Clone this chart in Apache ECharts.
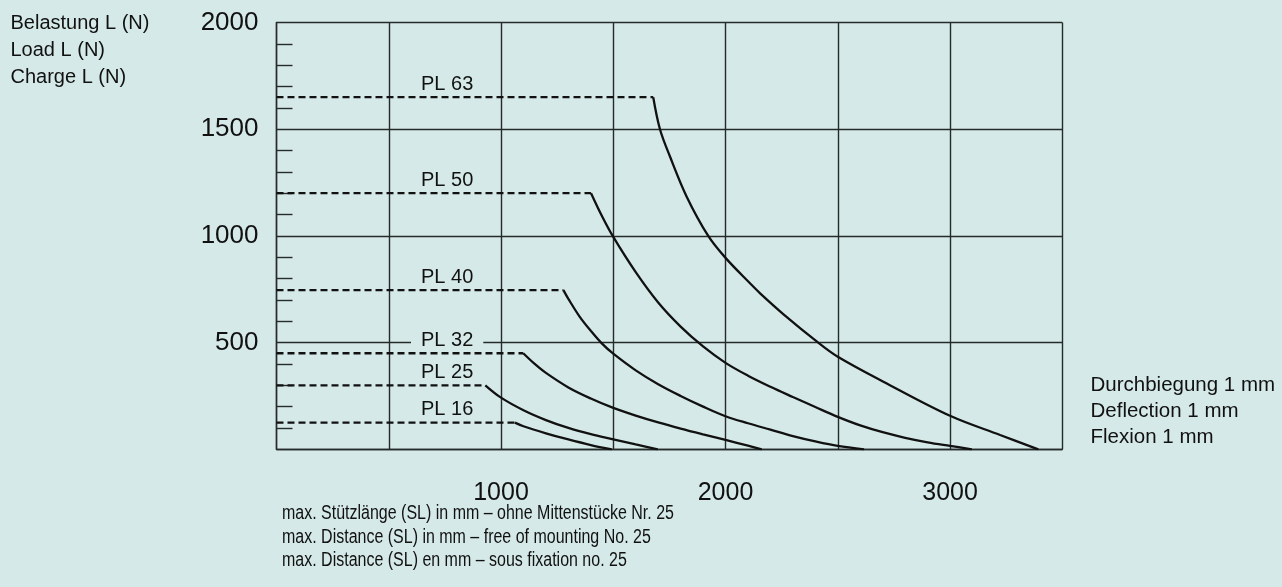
<!DOCTYPE html>
<html>
<head>
<meta charset="utf-8">
<script src="https://cdn.jsdelivr.net/npm/echarts@6/dist/echarts.min.js"></script>
<style>
  html, body { margin: 0; padding: 0; background: #d5eae8; }
  #chart { width: 1282px; height: 587px; }
</style>
</head>
<body>
<div id="chart"></div>
<script>
// ---- data (SL in mm, load L in N) ----
const xTickLabels = [1000, 2000, 3000];
const yTickLabels = [500, 1000, 1500, 2000];
const seriesNames = ['PL 63', 'PL 50', 'PL 40', 'PL 32', 'PL 25', 'PL 16'];

const pl63 = [[1678, 1650], [1708, 1500], [1753, 1371], [1827, 1184], [1923, 1000], [2000, 897], [2109, 778], [2154, 731], [2257, 634], [2413, 500], [2500, 434], [2703, 317], [3000, 157], [3223, 67], [3393, 0]];
const pl50 = [[1401, 1200], [1450, 1092], [1500, 995], [1600, 830], [1700, 688], [1800, 575], [1900, 482], [2000, 405], [2100, 345], [2200, 293], [2300, 245], [2400, 198], [2500, 152], [2600, 112], [2700, 80], [2800, 54], [2900, 33], [3000, 16], [3097, 0]];
const pl40 = [[1278, 746], [1300, 705], [1350, 622], [1400, 555], [1450, 495], [1500, 448], [1600, 370], [1700, 305], [1800, 250], [1900, 200], [2000, 155], [2100, 122], [2200, 92], [2300, 62], [2400, 37], [2500, 16], [2617, 0]];
const pl32 = [[1099, 450], [1150, 400], [1200, 358], [1300, 290], [1400, 238], [1500, 194], [1600, 158], [1700, 126], [1800, 97], [1900, 70], [2000, 44], [2100, 17], [2161, 0]];
const pl25 = [[930, 300], [1000, 242], [1100, 183], [1200, 137], [1300, 100], [1400, 71], [1500, 47], [1600, 23], [1698, 0]];
const pl16 = [[1062, 125], [1100, 108], [1200, 75], [1300, 46], [1400, 20], [1493, 0]];

const curves = [pl63, pl50, pl40, pl32, pl25, pl16];

const yTitle = 'Belastung L (N)\nLoad L (N)\nCharge L (N)';
const noteText = 'Durchbiegung 1 mm\nDeflection 1 mm\nFlexion 1 mm';
const xTitle = 'max. Stützlänge (SL) in mm – ohne Mittenstücke Nr. 25\nmax. Distance (SL) in mm – free of mounting No. 25\nmax. Distance (SL) en mm – sous fixation no. 25';

// ---- styling ----
const BG = '#d5eae8';
const INK = '#111111';
const GRIDC = '#262b2a';
const FONT = '"Liberation Sans", Arial, sans-serif';
const LABEL_SL = 760;

const series = [];
curves.forEach((c, i) => {
  const name = seriesNames[i];
  const start = c[0];
  series.push({
    name: name, type: 'line', data: c, smooth: 0.35,
    showSymbol: false, symbol: 'none',
    lineStyle: { color: INK, width: 2.3 }, z: 5, silent: true
  });
  series.push({
    name: name + ' level', type: 'line', data: [[0, start[1]], [start[0], start[1]]],
    showSymbol: false, symbol: 'none',
    lineStyle: { color: INK, width: 2.3, type: [7, 4] }, z: 5, silent: true
  });
  series.push({
    name: name + ' label', type: 'scatter', data: [[LABEL_SL, start[1]]],
    symbolSize: 0, silent: true, z: 6,
    itemStyle: { opacity: 1 },
    label: {
      show: true, position: 'top', distance: 3,
      formatter: name, fontSize: 20, lineHeight: 20, color: INK, fontFamily: FONT,
      backgroundColor: BG, padding: [0, 10]
    }
  });
});

const chart = echarts.init(document.getElementById('chart'), null, { renderer: 'canvas' });
chart.setOption({
  backgroundColor: BG,
  animation: false,
  textStyle: { fontFamily: FONT },
  grid: { left: 276.5, top: 22.5, right: 219.7, bottom: 137.7, containLabel: false },
  title: [
    { text: yTitle, left: 10.5, top: 9.5, padding: 0,
      textStyle: { fontSize: 20, lineHeight: 27, fontWeight: 'normal', color: INK, fontFamily: FONT } },
    { text: noteText, left: 1090.5, top: 372, padding: 0,
      textStyle: { fontSize: 20.5, lineHeight: 26, fontWeight: 'normal', color: INK, fontFamily: FONT } }
  ],
  graphic: [
    { type: 'text', x: 282, y: 502.3, scaleX: 0.82, scaleY: 1, silent: true,
      style: { text: xTitle, x: 0, y: 0, fill: INK, fontSize: 19.5, lineHeight: 23.5,
        fontFamily: FONT, verticalAlign: 'top', align: 'left' } }
  ],
  xAxis: {
    type: 'value', min: 0, max: 3500, interval: 500,
    axisLine: { show: true, lineStyle: { color: GRIDC, width: 1.4 } },
    axisTick: { show: false },
    axisLabel: {
      fontSize: 25, color: INK, margin: 31, fontFamily: FONT,
      formatter: v => xTickLabels.includes(v) ? String(v) : ''
    },
    splitLine: { show: true, lineStyle: { color: GRIDC, width: 1.4 } }
  },
  yAxis: {
    type: 'value', min: 0, max: 2000, interval: 500,
    axisLine: { show: true, lineStyle: { color: GRIDC, width: 1.4 } },
    axisTick: { show: false, inside: true },
    minorTick: { show: true, splitNumber: 5, length: 16, lineStyle: { color: GRIDC, width: 1.4 } },
    axisLabel: {
      fontSize: 26, color: INK, margin: 18, fontFamily: FONT,
      formatter: v => yTickLabels.includes(v) ? String(v) : ''
    },
    splitLine: { show: true, lineStyle: { color: GRIDC, width: 1.4 } }
  },
  series: series
});
</script>
</body>
</html>
